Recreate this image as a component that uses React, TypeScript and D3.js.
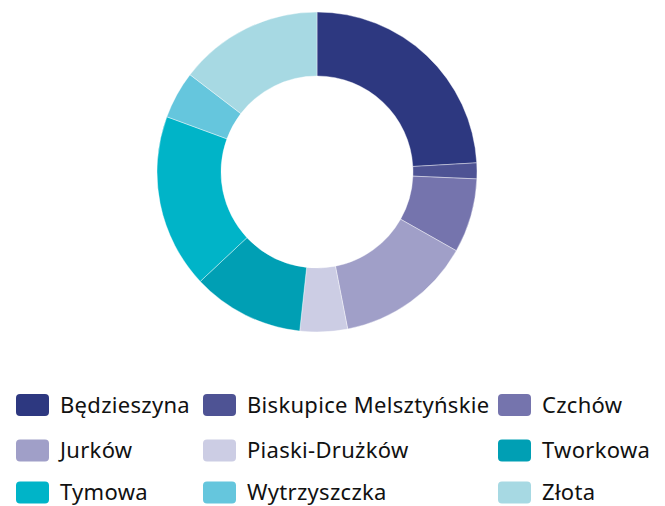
import React from "react";
import * as d3 from "d3";

const categories = ["Będzieszyna", "Biskupice Melsztyńskie", "Czchów", "Jurków", "Piaski-Drużków", "Tworkowa", "Tymowa", "Wytrzyszczka", "Złota"];
const values = [24.1, 1.6, 7.5, 13.75, 4.8, 11.3, 17.6, 4.8, 14.6];
const colors = ["#2d3880", "#4e5394", "#7574ad", "#a09fc8", "#cccde4", "#009fb4", "#00b4c8", "#65c6dd", "#a7d9e3"];

const W = 665, H = 506;
const cx = 317, cy = 172, rOuter = 160, rInner = 96;

export default function App() {
  const pie = d3.pie<number>().sort(null).value((d) => d)(values);
  const arc = d3.arc<d3.PieArcDatum<number>>().innerRadius(rInner).outerRadius(rOuter);
  const colX = [16, 203, 498];
  const rowY = [405, 450.5, 492.5];
  return (
    <svg width={W} height={H} style={{ position: "absolute", left: 0, top: 0 }}>
      <rect width={W} height={H} fill="#fff" />
      <g transform={`translate(${cx},${cy})`}>
        {pie.map((p, i) => (
          <path key={i} d={arc(p) || ""} fill={colors[i]} stroke="#fff" strokeWidth={0.4} />
        ))}
      </g>
      {categories.map((c, i) => {
        const x = colX[i % 3];
        const y = rowY[Math.floor(i / 3)];
        return (
          <g key={c}>
            <rect x={x} y={y - 11} width={33} height={22} rx={4} fill={colors[i]} />
            <text x={x + 44} y={y + 7.5} fontFamily="'Noto Sans', sans-serif" fontSize={22} letterSpacing={0.3} fill="#111">{c}</text>
          </g>
        );
      })}
    </svg>
  );
}
